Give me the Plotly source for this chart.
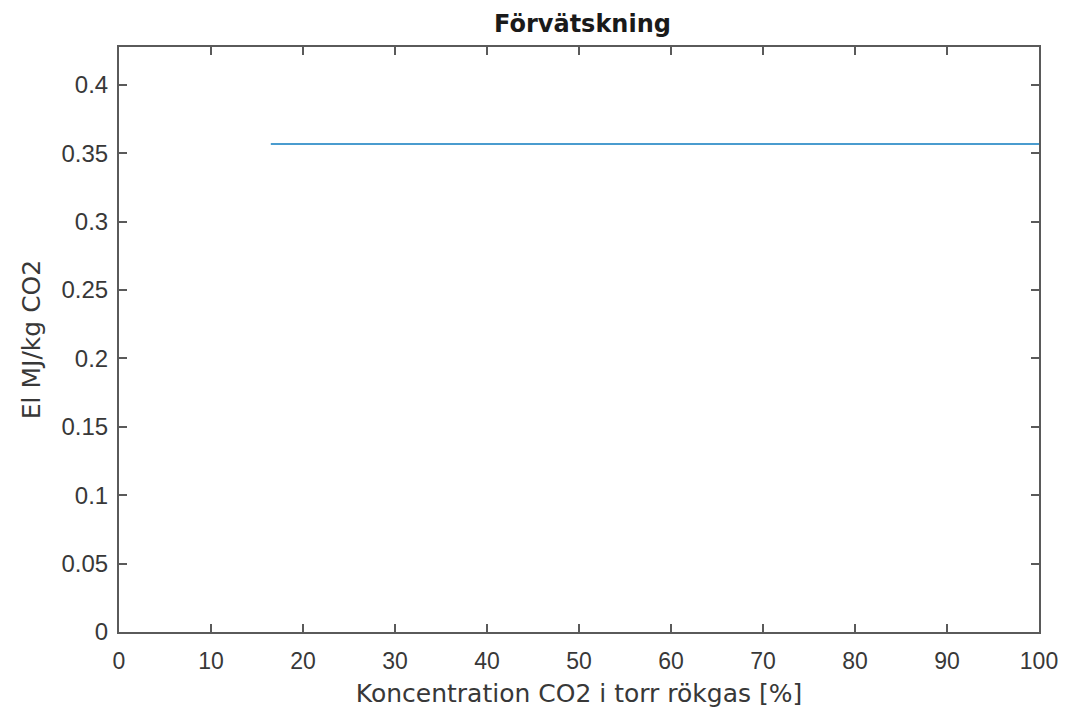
import plotly.graph_objects as go

# Data
x_values = [16.5, 100]
y_values = [0.3567, 0.3567]
x_ticks = [0, 10, 20, 30, 40, 50, 60, 70, 80, 90, 100]
y_ticks = [0, 0.05, 0.1, 0.15, 0.2, 0.25, 0.3, 0.35, 0.4]
y_tick_labels = ["0", "0.05", "0.1", "0.15", "0.2", "0.25", "0.3", "0.35", "0.4"]

axis_color = "#5a5a5a"
text_color = "#383838"
tick_font = "Liberation Sans, Arial, sans-serif"
title_font = "DejaVu Sans, Liberation Sans, sans-serif"

fig = go.Figure()
fig.add_trace(go.Scatter(
    x=x_values, y=y_values, mode="lines",
    line=dict(color="#4a9ccf", width=2),
    showlegend=False,
))

fig.update_layout(
    width=1070, height=721,
    margin=dict(l=119, r=24, t=47, b=89),
    paper_bgcolor="white", plot_bgcolor="white",
    font=dict(family=tick_font, color=text_color, size=24),
    title=dict(
        text="<b>Förvätskning</b>",
        x=(119 + 1046) / 2 / 1070, xanchor="center",
        y=1 - 24 / 721, yanchor="middle",
        font=dict(family=title_font, size=24, color="#1a1a1a"),
    ),
)

fig.update_xaxes(
    range=[0, 100], tickvals=x_ticks,
    ticks="inside", ticklen=8, tickwidth=1.5, tickcolor=axis_color,
    showline=True, linecolor=axis_color, linewidth=2, mirror="ticks",
    showgrid=False, zeroline=False, ticklabelstandoff=7,
    title=dict(text="Koncentration CO2 i torr rökgas [%]",
               font=dict(family=title_font, size=25), standoff=12),
    tickfont=dict(size=23),
)
fig.update_yaxes(
    range=[0, 0.4276], tickvals=y_ticks, ticktext=y_tick_labels,
    ticks="inside", ticklen=8, tickwidth=1.5, tickcolor=axis_color,
    showline=True, linecolor=axis_color, linewidth=2, mirror="ticks",
    showgrid=False, zeroline=False, ticklabelstandoff=4,
    title=dict(text="El MJ/kg CO2", font=dict(family=title_font, size=25), standoff=14),
    tickfont=dict(size=24),
)

fig.write_html("out.html")
